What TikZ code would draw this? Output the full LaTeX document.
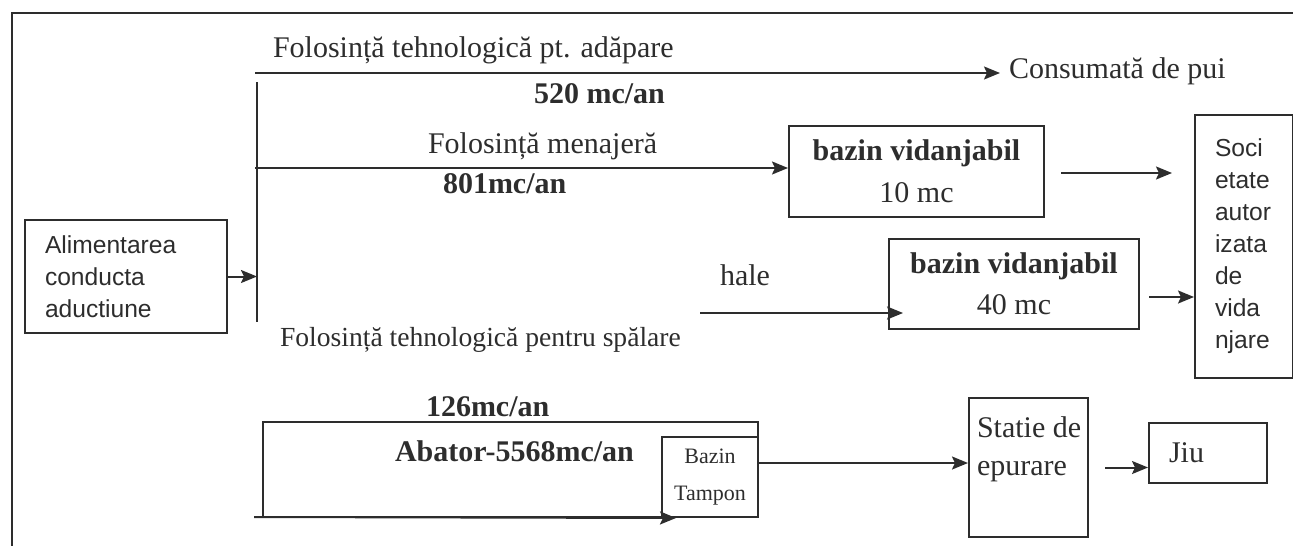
\documentclass[tikz,border=0pt]{standalone}
\usepackage{fontspec}
\setmainfont{Liberation Serif}
\setsansfont{Liberation Sans}
\usetikzlibrary{arrows.meta, positioning, calc}

\definecolor{ink}{RGB}{45,45,45}

\begin{document}
\begin{tikzpicture}[x=0.5pt, y=-0.5pt, color=ink, line width=1pt,
  font=\fontsize{15}{18}\selectfont,
  txt/.style={inner sep=0pt, anchor=base west},
  bold/.style={txt, font=\fontsize{15}{18}\selectfont\bfseries},
  box/.style={draw, inner sep=0pt, align=center},
  sbox/.style={draw, inner ysep=0pt, inner xsep=10pt, align=left,
    font=\sffamily\fontsize{12.3}{16}\selectfont},
  arr/.style={-{Stealth[length=8pt,width=6.5pt,inset=1.5pt]}}]
\useasboundingbox (0,0) rectangle (1293,546);

% frame
\draw[line width=1.4pt] (1293,13) -- (12,13) -- (12,546);

% boxes
\node[sbox, text width=81pt, minimum height=56.5pt] (alim) at (126,276.5) {Alimentarea\\conducta\\aductiune};
\node[sbox, text width=29pt, minimum height=131.5pt] (soci) at (1244,246.5) {Soci\\etate\\autor\\izata\\de\\vida\\njare};
\node[box, minimum width=127.5pt, minimum height=45.5pt] (vid1) at (916.5,171.5) {\textbf{bazin vidanjabil}\\[3pt]10 mc};
\node[box, minimum width=125pt, minimum height=45pt] (vid2) at (1014,284) {\textbf{bazin vidanjabil}\\[2.5pt]40 mc};
\node[box, minimum width=247.5pt, minimum height=47.5pt] (abator) at (510.5,469.5) {};
\node[box, minimum width=48pt, minimum height=40pt, font=\fontsize{11}{13}\selectfont] (tampon) at (710,477) {Bazin\\[5.5pt]Tampon};
\node[box, minimum width=59.5pt, minimum height=69.5pt,
  label={[anchor=north west, inner sep=0pt, align=left, xshift=4pt, yshift=-9.25pt]north west:Statie de\\[1pt]epurare}] (statie) at (1028.5,467.5) {};
\node[draw, minimum width=59pt, minimum height=30pt, text width=39pt, inner xsep=10pt, align=left] (jiu) at (1208,453) {Jiu};

% texts
\node[txt] (adap) at (272,57) {Folosință tehnologică pt. adăpare};
\node[bold] (q520) at (533,103) {520 mc/an};
\node[txt] (pui) at (1008,78) {Consumată de pui};
\node[txt] (menaj) at (427,153) {Folosință menajeră};
\node[bold] (q801) at (442,193) {801mc/an};
\node[txt] (hale) at (719,285) {hale};
\node[txt, font=\fontsize{13.8}{17}\selectfont] (spal) at (279,346) {Folosință tehnologică pentru spălare};
\node[bold] (q126) at (425,416) {126mc/an};
\node[bold] (abtxt) at (394,461) {Abator-5568mc/an};

% distribution
\coordinate (j1) at (257,82);
\coordinate (j2) at (257,322);
\coordinate (s1) at (255,73);
\coordinate (s2) at (255,168);
\coordinate (s3) at (700,313);
\coordinate (s4) at (254,517);
\draw (j1) -- (j2);
\draw[arr] (alim.east) -- (alim.east -| j1);
\draw[arr, shorten >=4pt] (s1) -- (s1 -| pui.west);
\draw[arr] (s2) -- (s2 -| vid1.west);
\draw[arr, shorten <=8pt, shorten >=11pt] ([yshift=-0.75pt]vid1.east) -- ([yshift=-0.75pt]vid1.east -| soci.west);
\draw[arr, shorten >=-7.5pt] (s3) -- (s3 -| vid2.west);
\draw[arr, shorten <=4.5pt] ([yshift=-6.5pt]vid2.east) -- ([yshift=-6.5pt]vid2.east -| soci.west);
\draw[arr] (s4) -- ([xshift=7.5pt]tampon.south west);
\draw[arr] ([yshift=2.25pt]tampon.east |- statie.west) -- ([yshift=2.25pt]statie.west);
\draw[arr, shorten <=8pt] (statie.east) -- (statie.east -| jiu.west);
\end{tikzpicture}
\end{document}
